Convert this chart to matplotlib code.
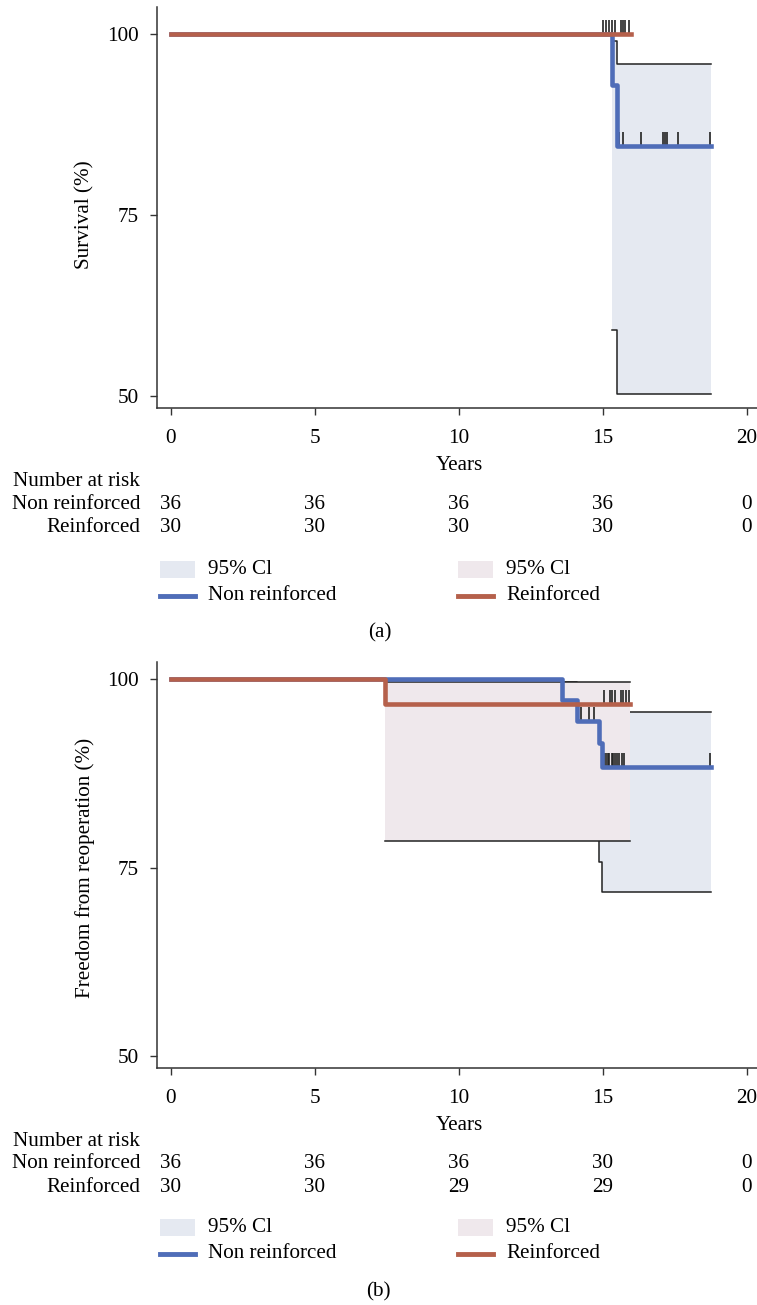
import matplotlib
matplotlib.use("Agg")
import matplotlib.pyplot as plt
from matplotlib.patches import Rectangle
from matplotlib.lines import Line2D
from matplotlib.transforms import blended_transform_factory

plt.rcParams['font.family'] = ['Liberation Serif', 'DejaVu Serif']

BLUE = '#4f6db8'
RED = '#b5604b'
BLUE_CI = '#e5e9f1'
RED_CI = '#efe8ec'
FS = 15.2

# (a) survival
a_blue_t = [0, 15.31, 15.49, 18.75]
a_blue_s = [100, 92.9, 84.5, 84.5]
a_red_t = [0, 15.97]
a_red_s = [100, 100]
a_blue_ci_t = [15.31, 15.49, 18.75]
a_blue_ci_hi = [99.0, 95.8, 95.8]
a_blue_ci_lo = [59.1, 50.3, 50.3]
a_blue_cens = [15.50, 15.57, 15.69, 16.31, 17.09, 17.15, 17.21, 17.62, 18.72]
a_red_cens = [15.01, 15.10, 15.22, 15.30, 15.42, 15.61, 15.68, 15.76, 15.91]
a_risk_blue = [36, 36, 36, 36, 0]
a_risk_red = [30, 30, 30, 30, 0]

# (b) freedom from reoperation
b_blue_t = [0, 13.59, 14.09, 14.87, 14.98, 18.74]
b_blue_s = [100, 97.2, 94.5, 91.5, 88.3, 88.3]
b_red_t = [0, 7.43, 15.94]
b_red_s = [100, 96.7, 96.7]
b_blue_ci_t = [13.59, 14.09, 14.87, 14.98, 18.74]
b_blue_ci_hi = [99.6, 98.9, 97.6, 95.6, 95.6]
b_blue_ci_lo = [81.5, 79.6, 75.7, 71.8, 71.8]
b_red_ci_t = [7.43, 15.94]
b_red_ci_hi = [99.6, 99.6]
b_red_ci_lo = [78.6, 78.6]
b_blue_cens_1 = [14.23, 14.51, 14.70]
b_blue_cens_2 = [15.03, 15.10, 15.16, 15.22, 15.30, 15.36, 15.42, 15.48,
                 15.57, 15.65, 15.73, 18.72]
b_red_cens = [15.03, 15.24, 15.32, 15.42, 15.61, 15.70, 15.80, 15.91]
b_risk_blue = [36, 36, 36, 30, 0]
b_risk_red = [30, 30, 29, 29, 0]

risk_times = [0, 5, 10, 15, 20]

W, H = 757, 1305
fig = plt.figure(figsize=(W / 100, H / 100), dpi=100)


def fx(px):
    return px / W


def fy(py):
    return 1 - py / H


def ci(ax, t, lo, hi, color):
    ax.fill_between(t, lo, hi, step='post', color=color, lw=0, zorder=1)
    ax.step(t, hi, where='post', color='#222222', lw=1.1, zorder=2)
    ax.step(t, lo, where='post', color='#222222', lw=1.1, zorder=2)


def cens(ax, t, y, h):
    ax.vlines(t, y, y + h, color='#222222', lw=1.2, zorder=3)


def panel(top, bottom, ylim):
    ax = fig.add_axes([fx(157), fy(bottom), 1 - fx(157), (bottom - top) / H])
    ax.set_xlim(-0.486, 20.35)
    ax.set_ylim(*ylim)
    ax.set_xticks(risk_times)
    ax.set_yticks([50, 75, 100])
    for s in ['top', 'right']:
        ax.spines[s].set_visible(False)
    for s in ['left', 'bottom']:
        ax.spines[s].set_color('#333333')
        ax.spines[s].set_linewidth(1.1)
    ax.tick_params(labelsize=FS, length=5, width=1, color='#333333')
    ax.tick_params(axis='x', pad=10)
    ax.tick_params(axis='y', pad=8)
    return ax


def risk_table(ax, y0, blue, red):
    tr = blended_transform_factory(ax.transData, fig.transFigure)
    fig.text(fx(140), fy(y0), 'Number at risk', ha='right', va='center', fontsize=FS)
    fig.text(fx(140), fy(y0 + 23), 'Non reinforced', ha='right', va='center', fontsize=FS)
    fig.text(fx(140), fy(y0 + 46), 'Reinforced', ha='right', va='center', fontsize=FS)
    for t, nb, nr in zip(risk_times, blue, red):
        ax.text(t, fy(y0 + 23), str(nb), transform=tr, ha='center', va='center',
                fontsize=FS, clip_on=False)
        ax.text(t, fy(y0 + 46), str(nr), transform=tr, ha='center', va='center',
                fontsize=FS, clip_on=False)


def legend(y0):
    for x, fc, lc, lab in [(160, BLUE_CI, BLUE, 'Non reinforced'),
                           (458, RED_CI, RED, 'Reinforced')]:
        fig.add_artist(Rectangle((fx(x), fy(y0 + 9)), fx(35), 17 / H,
                                 transform=fig.transFigure, color=fc, lw=0))
        fig.text(fx(x + 48), fy(y0), '95% Cl', ha='left', va='center', fontsize=FS)
        fig.add_artist(Line2D([fx(x), fx(x + 35)], [fy(y0 + 27)] * 2,
                              transform=fig.transFigure, color=lc, lw=3.5))
        fig.text(fx(x + 48), fy(y0 + 27), lab, ha='left', va='center', fontsize=FS)


# ---- panel (a)
ax1 = panel(7, 408, (48.34, 103.73))
ci(ax1, a_blue_ci_t, a_blue_ci_lo, a_blue_ci_hi, BLUE_CI)
cens(ax1, a_blue_cens, 84.5, 1.93)
cens(ax1, a_red_cens, 100, 1.93)
ax1.step(a_blue_t, a_blue_s, where='post', color=BLUE, lw=3.3, zorder=4)
ax1.step(a_red_t, a_red_s, where='post', color=RED, lw=3.3, zorder=5)
fig.text(fx(85), fy(215), 'Survival (%)', rotation=90, ha='center', va='center', fontsize=FS)
fig.text(fx(459), fy(465), 'Years', ha='center', va='center', fontsize=FS)
risk_table(ax1, 482, a_risk_blue, a_risk_red)
legend(569)
fig.text(fx(380), fy(633), '(a)', ha='center', va='center', fontsize=FS)

# ---- panel (b)
ax2 = panel(662, 1068, (48.41, 102.29))
ci(ax2, b_blue_ci_t, b_blue_ci_lo, b_blue_ci_hi, BLUE_CI)
ax2.fill_between(b_red_ci_t, b_red_ci_lo, b_red_ci_hi, step='post', color=RED_CI, lw=0, zorder=2.5)
ax2.step(b_red_ci_t, b_red_ci_hi, where='post', color='#222222', lw=1.1, zorder=2.6)
ax2.step(b_red_ci_t, b_red_ci_lo, where='post', color='#222222', lw=1.1, zorder=2.6)
cens(ax2, b_blue_cens_1, 94.5, 1.86)
cens(ax2, b_blue_cens_2, 88.3, 1.86)
cens(ax2, b_red_cens, 96.7, 1.86)
ax2.step(b_blue_t, b_blue_s, where='post', color=BLUE, lw=3.3, zorder=4)
ax2.step(b_red_t, b_red_s, where='post', color=RED, lw=3.3, zorder=5)
fig.text(fx(85), fy(868), 'Freedom from reoperation (%)', rotation=90, ha='center',
         va='center', fontsize=FS)
fig.text(fx(459), fy(1125), 'Years', ha='center', va='center', fontsize=FS)
risk_table(ax2, 1141, b_risk_blue, b_risk_red)
legend(1227)
fig.text(fx(378), fy(1292), '(b)', ha='center', va='center', fontsize=FS)

fig.savefig('out.png', dpi=100)
